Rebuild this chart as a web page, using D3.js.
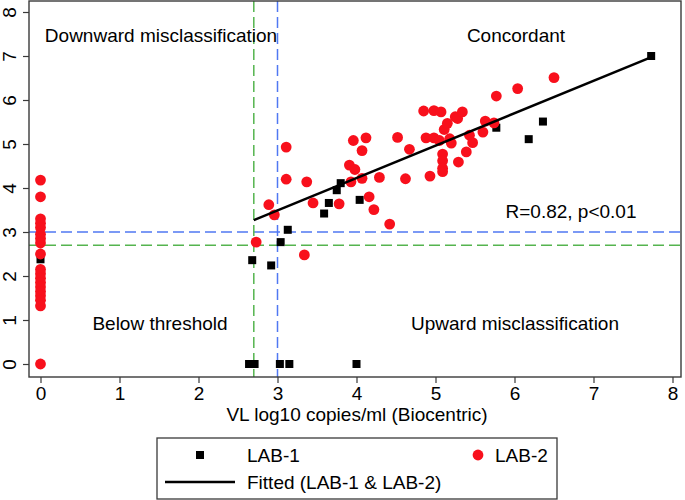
<!DOCTYPE html>
<html><head><meta charset="utf-8">
<script src="https://cdn.jsdelivr.net/npm/d3@7"></script>
<style>body{margin:0;background:#fff}svg{display:block;font-family:Arial,"Liberation Sans",sans-serif}</style>
</head><body><svg id="c" width="685" height="500"></svg>
<script>
// LAB-1 (black squares): [x, y]
const lab1 = [[0,2.38],[2.64,0],[2.71,0],[3.03,0],[3.15,0],[4.0,0],[2.68,2.36],[2.92,2.24],[3.04,2.77],[3.13,3.05],
  [3.59,3.42],[3.65,3.66],[3.75,3.95],[3.80,4.11],[4.04,3.73],[5.77,5.37],[6.18,5.11],[6.36,5.51],[7.73,7.0]];
// LAB-2 (red dots): [x, y]
const lab2 = [[0,4.18],[0,3.8],[0,3.3],[0,3.2],[0,3.1],[0,2.95],[0,2.85],[0,2.75],[0,2.5],[0,2.15],[0,2.05],[0,1.95],
  [0,1.85],[0,1.75],[0,1.65],[0,1.55],[0,1.45],[0,1.32],[0,0],
  [3.11,4.93],[3.11,4.20],[3.37,4.14],[2.89,3.62],[2.96,3.39],[3.45,3.66],[3.78,3.64],[3.91,4.52],[3.98,4.42],
  [3.96,5.08],[4.12,5.14],[4.07,4.85],[3.93,4.14],[4.07,4.22],[4.16,3.80],[4.22,3.51],[4.29,4.24],[2.73,2.77],
  [3.34,2.48],[4.42,3.18],
  [4.52,5.15],[4.67,4.88],[4.85,5.75],[4.98,5.76],[5.07,5.73],[4.88,5.14],[4.98,5.14],[5.05,5.08],[5.11,5.33],
  [5.15,5.47],[5.25,5.62],[5.28,5.58],[5.34,5.73],[5.18,5.12],[5.20,5.02],[5.43,5.20],[5.47,5.03],[5.63,5.52],
  [5.74,5.48],[5.60,5.27],[5.39,4.82],[5.29,4.59],[5.09,4.77],[5.09,4.62],[5.09,4.45],[5.09,4.37],[4.93,4.27],
  [4.62,4.21],[5.77,6.09],[6.04,6.26],[6.50,6.51]];
// Fitted line (LAB-1 & LAB-2): intercept, slope, x-range
const fitIntercept = 1.283, fitSlope = 0.736, fitRange = [2.7, 7.74];
const xTicks = [0,1,2,3,4,5,6,7,8];
const yTicks = [0,1,2,3,4,5,6,7,8];
const blueCut = 3, greenCut = 2.7;
const quadrantLabels = ["Downward misclassification","Concordant","Below threshold","Upward misclassification"];
const statText = "R=0.82, p<0.01";
const xTitle = "VL log10 copies/ml (Biocentric)";
const legendLabels = ["LAB-1","LAB-2","Fitted (LAB-1 & LAB-2)"];

const svg = d3.select("#c");
const box = {l:29, r:681, t:1, b:377};
const x = d3.scaleLinear().domain([0,8]).range([40.5,672.5]);
const y = d3.scaleLinear().domain([0,8]).range([364,12]);
const FS = 19;
const red = "#f8101c", blue = "#5078f2", green = "#55b44f";

// reference lines
const dash = "11,5";
svg.append("line").attr("x1",box.l).attr("x2",box.r).attr("y1",y(blueCut)).attr("y2",y(blueCut))
  .attr("stroke",blue).attr("stroke-width",1.5).attr("stroke-dasharray",dash);
svg.append("line").attr("x1",box.l).attr("x2",box.r).attr("y1",y(greenCut)).attr("y2",y(greenCut))
  .attr("stroke",green).attr("stroke-width",1.5).attr("stroke-dasharray",dash);
svg.append("line").attr("y1",box.t).attr("y2",box.b).attr("x1",x(blueCut)).attr("x2",x(blueCut))
  .attr("stroke",blue).attr("stroke-width",1.5).attr("stroke-dasharray",dash);
svg.append("line").attr("y1",box.t).attr("y2",box.b).attr("x1",x(greenCut)).attr("x2",x(greenCut))
  .attr("stroke",green).attr("stroke-width",1.5).attr("stroke-dasharray",dash);

// frame
svg.append("rect").attr("x",box.l).attr("y",box.t).attr("width",box.r-box.l).attr("height",box.b-box.t)
  .attr("fill","none").attr("stroke","#3a3a3a").attr("stroke-width",1.4);

// axes
const xa = svg.append("g").attr("transform",`translate(0,${box.b})`)
  .call(d3.axisBottom(x).tickValues(xTicks).tickSize(6).tickPadding(4).tickFormat(d3.format("d")));
xa.select(".domain").remove();
xa.selectAll("line").attr("stroke","#3a3a3a").attr("stroke-width",1.2);
xa.selectAll("text").attr("font-size",FS).attr("fill","#000").attr("font-family","Arial, 'Liberation Sans', sans-serif");

const ya = svg.append("g").attr("transform",`translate(${box.l},0)`)
  .call(d3.axisLeft(y).tickValues(yTicks).tickSize(6).tickFormat(d3.format("d")));
ya.select(".domain").remove();
ya.selectAll("line").attr("stroke","#3a3a3a").attr("stroke-width",1.2);
ya.selectAll("text").attr("font-size",FS).attr("fill","#000").attr("font-family","Arial, 'Liberation Sans', sans-serif")
  .attr("x",null).attr("dy",null).attr("text-anchor","middle")
  .attr("transform","translate(-13.5,0) rotate(-90)");

// points
svg.append("g").selectAll("rect").data(lab1).join("rect")
  .attr("x",d=>x(d[0])-4).attr("y",d=>y(d[1])-4).attr("width",8).attr("height",8).attr("fill","#000");
svg.append("g").selectAll("circle").data(lab2).join("circle")
  .attr("cx",d=>x(d[0])).attr("cy",d=>y(d[1])).attr("r",5.4).attr("fill",red);

// fitted line
svg.append("line")
  .attr("x1",x(fitRange[0])).attr("y1",y(fitIntercept+fitSlope*fitRange[0]))
  .attr("x2",x(fitRange[1])).attr("y2",y(fitIntercept+fitSlope*fitRange[1]))
  .attr("stroke","#000").attr("stroke-width",2.4);

// annotations
const ann = [[quadrantLabels[0],161,42],[quadrantLabels[1],516,42],[quadrantLabels[2],160,330],[quadrantLabels[3],515,330],[statText,571,218]];
svg.append("g").selectAll("text").data(ann).join("text")
  .attr("x",d=>d[1]).attr("y",d=>d[2]).attr("text-anchor","middle").attr("font-size",FS).attr("fill","#000").text(d=>d[0]);

svg.append("text").attr("x",357).attr("y",421).attr("text-anchor","middle").attr("font-size",FS).text(xTitle);

// legend
const lg = svg.append("g");
lg.append("rect").attr("x",157).attr("y",438).attr("width",400).attr("height",61)
  .attr("fill","#fff").attr("stroke","#3a3a3a").attr("stroke-width",1.3);
lg.append("rect").attr("x",196).attr("y",451).attr("width",8).attr("height",8).attr("fill","#000");
lg.append("text").attr("x",247).attr("y",462).attr("font-size",FS).text(legendLabels[0]);
lg.append("circle").attr("cx",478).attr("cy",455).attr("r",5.4).attr("fill",red);
lg.append("text").attr("x",495).attr("y",462).attr("font-size",FS).text(legendLabels[1]);
lg.append("line").attr("x1",165).attr("x2",235).attr("y1",482).attr("y2",482).attr("stroke","#000").attr("stroke-width",2.4);
lg.append("text").attr("x",247).attr("y",489).attr("font-size",FS).text(legendLabels[2]);
</script></body></html>
